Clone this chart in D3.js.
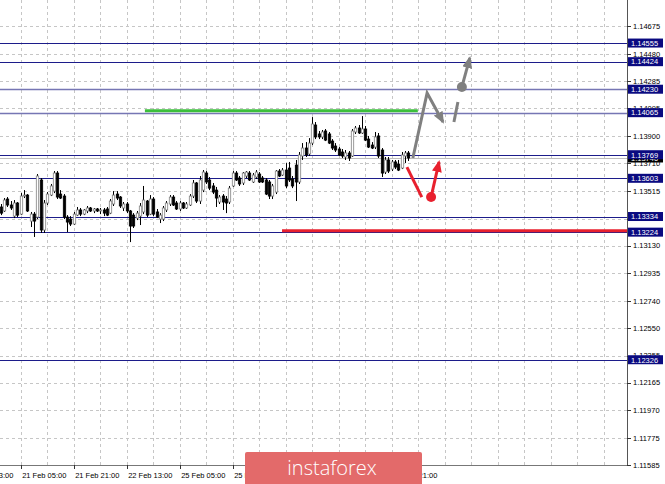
<!DOCTYPE html>
<html><head><meta charset="utf-8">
<script src="https://cdn.jsdelivr.net/npm/d3@7"></script>
<style>body{margin:0;background:#fff}svg{display:block}</style>
</head><body><svg id="c" width="665" height="484"></svg>
<script>
// H1 candles: [open, high, low, close]
const candles = [
[1.13401,1.13422,1.13344,1.13358],[1.13373,1.13464,1.13366,1.13450],[1.13457,1.13471,1.13401,1.13415],[1.13415,1.13443,1.13380,1.13394],
[1.13337,1.13450,1.13323,1.13429],[1.13429,1.13436,1.13330,1.13344],[1.13351,1.13499,1.13344,1.13478],[1.13478,1.13520,1.13464,1.13485],
[1.13485,1.13492,1.13366,1.13373],[1.13302,1.13366,1.13260,1.13351],[1.13351,1.13366,1.13190,1.13302],[1.13330,1.13633,1.13316,1.13619],
[1.13591,1.13605,1.13218,1.13239],[1.13239,1.13450,1.13218,1.13429],[1.13429,1.13506,1.13415,1.13492],[1.13485,1.13563,1.13478,1.13549],
[1.13513,1.13654,1.13499,1.13640],[1.13640,1.13654,1.13457,1.13471],[1.13492,1.13520,1.13457,1.13464],[1.13478,1.13492,1.13316,1.13330],
[1.13330,1.13344,1.13225,1.13295],[1.13316,1.13337,1.13267,1.13281],[1.13281,1.13366,1.13274,1.13351],[1.13344,1.13401,1.13337,1.13380],
[1.13380,1.13394,1.13337,1.13351],[1.13351,1.13387,1.13344,1.13380],[1.13373,1.13408,1.13358,1.13394],[1.13394,1.13401,1.13366,1.13373],
[1.13373,1.13394,1.13358,1.13387],[1.13387,1.13394,1.13366,1.13373],[1.13373,1.13394,1.13351,1.13380],[1.13380,1.13394,1.13337,1.13358],
[1.13387,1.13401,1.13337,1.13344],[1.13358,1.13457,1.13351,1.13443],[1.13422,1.13513,1.13408,1.13485],[1.13492,1.13513,1.13450,1.13464],
[1.13471,1.13478,1.13394,1.13408],[1.13394,1.13436,1.13373,1.13422],[1.13422,1.13436,1.13358,1.13373],[1.13373,1.13380,1.13154,1.13267],
[1.13344,1.13358,1.13253,1.13267],[1.13323,1.13373,1.13309,1.13358],[1.13337,1.13429,1.13274,1.13408],[1.13366,1.13549,1.13351,1.13450],
[1.13443,1.13450,1.13330,1.13344],[1.13351,1.13485,1.13344,1.13457],[1.13457,1.13471,1.13337,1.13351],[1.13366,1.13387,1.13323,1.13330],
[1.13316,1.13358,1.13288,1.13344],[1.13316,1.13408,1.13302,1.13394],[1.13380,1.13443,1.13366,1.13429],[1.13422,1.13485,1.13408,1.13471],
[1.13471,1.13485,1.13408,1.13415],[1.13429,1.13443,1.13380,1.13387],[1.13387,1.13443,1.13373,1.13429],[1.13429,1.13436,1.13387,1.13394],
[1.13394,1.13436,1.13387,1.13422],[1.13415,1.13492,1.13408,1.13478],[1.13478,1.13591,1.13464,1.13570],[1.13570,1.13577,1.13429,1.13443],
[1.13443,1.13619,1.13422,1.13591],[1.13520,1.13661,1.13506,1.13647],[1.13640,1.13654,1.13563,1.13577],[1.13591,1.13612,1.13520,1.13534],
[1.13549,1.13570,1.13492,1.13506],[1.13520,1.13542,1.13401,1.13464],[1.13436,1.13485,1.13422,1.13471],[1.13478,1.13492,1.13380,1.13436],
[1.13457,1.13478,1.13358,1.13429],[1.13436,1.13549,1.13422,1.13534],[1.13549,1.13654,1.13542,1.13640],[1.13640,1.13654,1.13584,1.13591],
[1.13605,1.13619,1.13549,1.13563],[1.13570,1.13647,1.13556,1.13640],[1.13619,1.13654,1.13605,1.13647],[1.13640,1.13654,1.13584,1.13591],
[1.13577,1.13640,1.13570,1.13626],[1.13612,1.13661,1.13598,1.13647],[1.13633,1.13647,1.13570,1.13577],[1.13605,1.13619,1.13570,1.13577],
[1.13591,1.13605,1.13485,1.13492],[1.13577,1.13591,1.13457,1.13478],[1.13478,1.13563,1.13457,1.13549],[1.13506,1.13661,1.13492,1.13654],
[1.13654,1.13668,1.13612,1.13619],[1.13626,1.13675,1.13619,1.13661],[1.13661,1.13710,1.13534,1.13549],[1.13675,1.13718,1.13577,1.13591],
[1.13598,1.13619,1.13534,1.13549],[1.13696,1.13732,1.13443,1.13577],[1.13577,1.13788,1.13563,1.13767],[1.13760,1.13851,1.13732,1.13816],
[1.13816,1.13858,1.13753,1.13767],[1.13774,1.13886,1.13760,1.13851],[1.13851,1.14034,1.13837,1.13985],[1.13978,1.13999,1.13879,1.13894],
[1.13915,1.13936,1.13879,1.13894],[1.13894,1.13943,1.13879,1.13929],[1.13936,1.13950,1.13865,1.13872],[1.13915,1.13929,1.13844,1.13851],
[1.13865,1.13879,1.13802,1.13816],[1.13830,1.13851,1.13788,1.13802],[1.13809,1.13823,1.13760,1.13767],[1.13788,1.13809,1.13746,1.13760],
[1.13753,1.13802,1.13732,1.13781],[1.13781,1.13795,1.13725,1.13746],[1.13760,1.13950,1.13753,1.13936],[1.13929,1.13971,1.13915,1.13957],
[1.13957,1.13978,1.13915,1.13922],[1.13922,1.14041,1.13915,1.13950],[1.13950,1.13971,1.13865,1.13872],[1.13879,1.13901,1.13816,1.13823],
[1.13837,1.13858,1.13809,1.13816],[1.13823,1.13929,1.13809,1.13894],[1.13901,1.13922,1.13746,1.13760],[1.13802,1.13816,1.13612,1.13640],
[1.13647,1.13753,1.13633,1.13732],[1.13732,1.13753,1.13640,1.13654],[1.13668,1.13732,1.13654,1.13718],[1.13718,1.13732,1.13668,1.13682],
[1.13703,1.13732,1.13654,1.13661],[1.13675,1.13788,1.13668,1.13767],[1.13760,1.13795,1.13710,1.13781],[1.13781,1.13795,1.13725,1.13746]
];
const yTicks = [1.14675,1.14480,1.14285,1.14095,1.13900,1.13710,1.13515,1.13320,1.13130,1.12935,1.12740,1.12550,1.12355,1.12165,1.11970,1.11775,1.11585];
const xLabelIdx = [-10,6,22,38,54,70,86,102,118];
const xLabelText = ["20 Feb 13:00","21 Feb 05:00","21 Feb 21:00","22 Feb 13:00","25 Feb 05:00","25 Feb 21:00","26 Feb 13:00","27 Feb 05:00","27 Feb 21:00"];
const darkLevels = [1.14555,1.14424,1.13769,1.13603,1.13334,1.13224,1.12326];
const lightLevels = [1.14230,1.14065];
const labelLevels = [1.14555,1.14424,1.14230,1.14065,1.13769,1.13603,1.13334,1.13224,1.12326];
const bidPrice = 1.13746;
const greenLevel = {from:43.5, to:125.9, price:1.14078};
const redLevel = {from:84.9, to:190, price:1.13233};
const grayPath = [[124.4,1.13746],[128.7,1.14203],[133.5,1.13999]];
const grayDash = [[136.8,1.13999],[138.0,1.14140]];
const grayDot = [139.2,1.14246];
const grayUp = [[139.2,1.14246],[141.6,1.14450]];
const redDown = [[122.6,1.13682],[127.1,1.13471]];
const redDot = [129.9,1.13471];
const redUp = [[129.9,1.13471],[132.3,1.13718]];

const svg = d3.select("#c");
const plotR = 627, plotB = 465;
const x = d3.scaleLinear().domain([-0.25, 188.75]).range([0, 626]);
const y = d3.scaleLinear().domain([1.11585, 1.14675]).range([465, 26]);
const fmt = d3.format(".5f");
const font = "'Liberation Sans', Arial, sans-serif";

// grid
const gridIdx = d3.range(-2, 190, 8).filter(i => x(i) > 0 && x(i) < plotR - 2);
svg.append("g").selectAll("line").data(gridIdx).join("line")
  .attr("x1", d => Math.round(x(d)) + 0.5).attr("x2", d => Math.round(x(d)) + 0.5)
  .attr("y1", 0).attr("y2", plotB)
  .attr("stroke", "#c6c6c6").attr("stroke-dasharray", "3,3");
svg.append("g").selectAll("line").data(yTicks).join("line")
  .attr("x1", 0).attr("x2", plotR)
  .attr("y1", d => Math.round(y(d)) + 0.5).attr("y2", d => Math.round(y(d)) + 0.5)
  .attr("stroke", "#c6c6c6").attr("stroke-dasharray", "3,3");

// bid line
svg.append("line").attr("x1", 0).attr("x2", plotR)
  .attr("y1", Math.round(y(bidPrice)) + 0.5).attr("y2", Math.round(y(bidPrice)) + 0.5)
  .attr("stroke", "#bdbdbd");

// level lines
svg.append("g").selectAll("line").data(darkLevels).join("line")
  .attr("x1", 0).attr("x2", plotR)
  .attr("y1", d => Math.round(y(d)) + 0.5).attr("y2", d => Math.round(y(d)) + 0.5)
  .attr("stroke", "#1c1c8a").attr("stroke-width", 1.2);
svg.append("g").selectAll("line").data(lightLevels).join("line")
  .attr("x1", 0).attr("x2", plotR)
  .attr("y1", d => Math.round(y(d)) + 0.5).attr("y2", d => Math.round(y(d)) + 0.5)
  .attr("stroke", "#7676b4").attr("stroke-width", 1.6);

// green & red levels
svg.append("line").attr("x1", x(greenLevel.from)).attr("x2", x(greenLevel.to))
  .attr("y1", y(greenLevel.price)).attr("y2", y(greenLevel.price))
  .attr("stroke", "#3cbf3c").attr("stroke-width", 3);
svg.append("line").attr("x1", x(redLevel.from)).attr("x2", Math.min(plotR, x(redLevel.to)))
  .attr("y1", y(redLevel.price)).attr("y2", y(redLevel.price))
  .attr("stroke", "#e8202e").attr("stroke-width", 3);

// candles
const cg = svg.append("g");
candles.forEach((c, i) => {
  const [o, h, l, cl] = c;
  const cx = Math.round(x(i)) + 0.5;
  cg.append("line").attr("x1", cx).attr("x2", cx).attr("y1", y(h)).attr("y2", y(l))
    .attr("stroke", "#000").attr("stroke-width", 1);
  const top = y(Math.max(o, cl)), bot = y(Math.min(o, cl));
  const bull = cl >= o;
  cg.append("rect").attr("x", cx - 1.2).attr("y", top).attr("width", 2.4)
    .attr("height", Math.max(1, bot - top))
    .attr("fill", bull ? "#fff" : "#000")
    .attr("stroke", bull ? "#808080" : "#000").attr("stroke-width", 0.8);
});

// annotations
const defs = svg.append("defs");
function marker(id, color) {
  defs.append("marker").attr("id", id).attr("viewBox", "0 0 12 10")
    .attr("refX", 10).attr("refY", 5).attr("markerWidth", 12).attr("markerHeight", 10)
    .attr("markerUnits", "userSpaceOnUse").attr("orient", "auto")
    .append("path").attr("d", "M0,0 L12,5 L0,10 Z").attr("fill", color);
}
marker("ag", "#808080");
marker("ar", "#e8202e");
const line = d3.line().x(d => x(d[0])).y(d => y(d[1]));
svg.append("path").attr("d", line(grayPath)).attr("fill", "none").attr("stroke", "#808080")
  .attr("stroke-width", 3).attr("marker-end", "url(#ag)");
svg.append("path").attr("d", line(grayDash)).attr("fill", "none").attr("stroke", "#808080").attr("stroke-width", 3);
svg.append("path").attr("d", line(grayUp)).attr("fill", "none").attr("stroke", "#808080")
  .attr("stroke-width", 3).attr("marker-end", "url(#ag)");
svg.append("circle").attr("cx", x(grayDot[0])).attr("cy", y(grayDot[1])).attr("r", 5).attr("fill", "#808080");
svg.append("path").attr("d", line(redDown)).attr("fill", "none").attr("stroke", "#e8202e").attr("stroke-width", 3);
svg.append("path").attr("d", line(redUp)).attr("fill", "none").attr("stroke", "#e8202e")
  .attr("stroke-width", 3).attr("marker-end", "url(#ar)");
svg.append("circle").attr("cx", x(redDot[0])).attr("cy", y(redDot[1])).attr("r", 5).attr("fill", "#e8202e");

// axes lines
svg.append("line").attr("x1", plotR + 0.5).attr("x2", plotR + 0.5).attr("y1", 0).attr("y2", plotB + 1)
  .attr("stroke", "#555");
svg.append("line").attr("x1", 0).attr("x2", plotR).attr("y1", plotB + 0.5).attr("y2", plotB + 0.5)
  .attr("stroke", "#777");

// bid label (black)
const bidG = svg.append("g");
bidG.append("rect").attr("x", plotR + 1).attr("y", y(bidPrice) - 4.5).attr("width", 35).attr("height", 9).attr("fill", "#000");
bidG.append("text").attr("x", plotR + 4).attr("y", y(bidPrice) + 2.8).attr("fill", "#fff")
  .attr("font-family", font).attr("font-size", "7.5px").text(fmt(bidPrice));

// y tick labels
svg.append("g").selectAll("line").data(yTicks).join("line")
  .attr("x1", plotR).attr("x2", plotR + 4)
  .attr("y1", d => Math.round(y(d)) + 0.5).attr("y2", d => Math.round(y(d)) + 0.5).attr("stroke", "#333");
svg.append("g").selectAll("text").data(yTicks).join("text")
  .attr("x", plotR + 6).attr("y", d => y(d) + 2.8)
  .attr("font-family", font).attr("font-size", "7.5px").attr("fill", "#000")
  .text(d => fmt(d));

// level labels
const lg = svg.append("g").selectAll("g").data(labelLevels).join("g");
lg.append("rect").attr("x", plotR + 1).attr("y", d => y(d) - 4.5).attr("width", 35).attr("height", 9).attr("fill", "#0a0a80");
lg.append("text").attr("x", plotR + 4).attr("y", d => y(d) + 2.8).attr("fill", "#fff")
  .attr("font-family", font).attr("font-size", "7.5px").text(d => fmt(d));

// x labels
svg.append("g").selectAll("line").data(xLabelIdx).join("line")
  .attr("x1", d => Math.round(x(d)) + 0.5).attr("x2", d => Math.round(x(d)) + 0.5)
  .attr("y1", plotB).attr("y2", plotB + 4).attr("stroke", "#333");
svg.append("g").selectAll("text").data(xLabelIdx).join("text")
  .attr("x", d => x(d) + 1.5).attr("y", 477.5)
  .attr("font-family", font).attr("font-size", "7.5px").attr("fill", "#000")
  .text((d, i) => xLabelText[i]);

// watermark
const wm = svg.append("g");
wm.append("rect").attr("x", 245).attr("y", 452).attr("width", 177).attr("height", 40).attr("rx", 2).attr("fill", "#e36a6a");
wm.append("text").attr("x", 332).attr("y", 475).attr("text-anchor", "middle").attr("fill", "#fff")
  .attr("font-family", "'Open Sans', sans-serif").attr("font-weight", 300).attr("font-size", "20px").text("instaforex");
</script></body></html>
